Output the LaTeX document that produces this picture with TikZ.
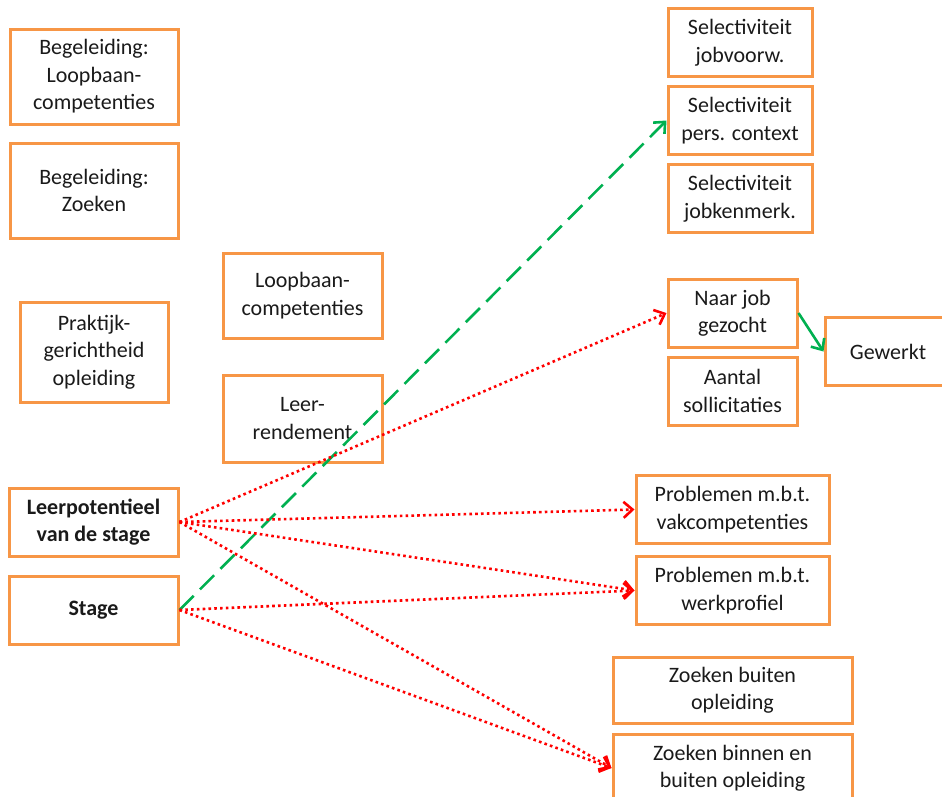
\documentclass[tikz,border=0pt]{standalone}
\usepackage{fontspec}
\setmainfont{Carlito}
\usetikzlibrary{positioning,arrows.meta}
\definecolor{Frame}{HTML}{F79646}
\definecolor{Go}{HTML}{00B050}
\definecolor{Stop}{HTML}{FF0000}
\definecolor{Txt}{HTML}{1A1A1A}

\begin{document}
\begin{tikzpicture}[
      x=1pt, y=-1pt,
      node distance=7pt,
      box/.style={draw=Frame, line width=3pt, fill=white, text=Txt, align=center, inner sep=2pt,
                  font=\fontsize{22}{27.5}\selectfont, minimum height=68pt},
      dotarr/.style={-{Straight Barb[length=9pt,width=16pt]}, line width=2.6pt, draw=Stop,
                     dash pattern=on 2.6pt off 3.2pt},
      dasharr/.style={-{Straight Barb[length=9pt,width=16pt]}, line width=2.6pt, draw=Go,
                      dash pattern=on 20pt off 9pt},
      solarr/.style={-{Straight Barb[length=9pt,width=16pt]}, line width=2.6pt, draw=Go}
    ]
    \useasboundingbox (0,0) rectangle (942,796);

    % left column
    \node[box, minimum width=168pt, minimum height=95pt] (begl) at (94,76.5) {Begeleiding:\\Loopbaan-\\competenties};
    \node[box, minimum width=168pt, minimum height=95pt, below=16pt of begl] (begz) {Begeleiding:\\Zoeken};
    \node[box, minimum width=148pt, minimum height=100pt] (prak) at (94,352) {Praktijk-\\gerichtheid\\opleiding};
    \node[box, minimum width=169pt] (leerp) at (93.5,522) {\bfseries Leerpotentieel\\\bfseries van de stage};
    \node[box, minimum width=169pt, below=17pt of leerp] (stage) {\bfseries Stage};

    % middle column
    \node[box, minimum width=159pt, minimum height=85pt] (loopc) at (302.5,295.5) {Loopbaan-\\competenties};
    \node[box, minimum width=159pt, minimum height=87pt] (rend) at (302.5,418.5) {Leer-\\rendement};

    % right column
    \node[box, minimum width=144pt] (seljob) at (740,42.5) {Selectiviteit\\jobvoorw.};
    \node[box, minimum width=144pt, below=of seljob] (selpers) {Selectiviteit\\pers. context};
    \node[box, minimum width=144pt, below=of selpers] (selkenm) {Selectiviteit\\jobkenmerk.};
    \node[box, minimum width=129pt] (naar) at (732.5,313) {Naar job\\gezocht};
    \node[box, minimum width=129pt, below=of naar] (aantal) {Aantal\\sollicitaties};
    \node[box, minimum width=126pt] (gew) at (888,351.5) {Gewerkt};
    \node[box, minimum width=193pt] (probvak) at (732.5,509.5) {Problemen m.b.t.\\vakcompetenties};
    \node[box, minimum width=193pt, below=10pt of probvak] (probwerk) {Problemen m.b.t.\\werkprofiel};
    \node[box, minimum width=239pt, minimum height=66pt] (zoekb) at (732.5,690) {Zoeken buiten\\opleiding};
    \node[box, minimum width=239pt, below=8pt of zoekb] (zoekbb) {Zoeken binnen en\\buiten opleiding};

    \draw[dasharr] (stage.east) -- (selpers.west);
    \draw[dotarr] (leerp.east) -- (naar.west);
    \draw[dotarr] (leerp.east) -- (probvak.west);
    \draw[dotarr] (leerp.east) -- (probwerk.west);
    \draw[dotarr] (leerp.east) -- (zoekbb.west);
    \draw[dotarr] (stage.east) -- (probwerk.west);
    \draw[dotarr] (stage.east) -- (zoekbb.west);
    \draw[solarr] (naar.east) -- (gew.west);
  \end{tikzpicture}
\end{document}
